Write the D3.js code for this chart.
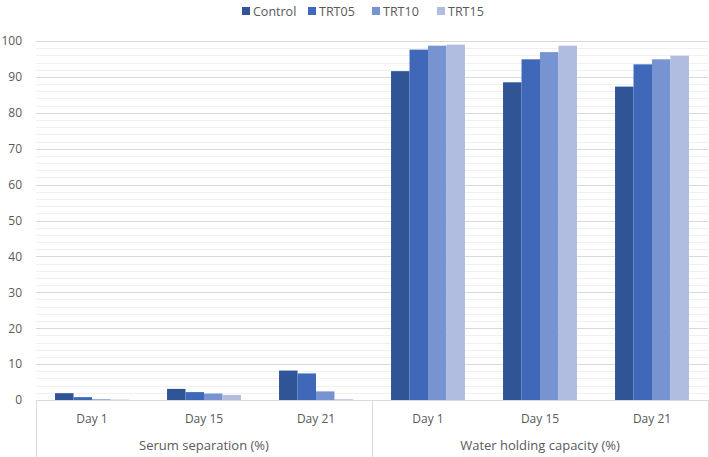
<!DOCTYPE html>
<html>
<head>
<meta charset="utf-8">
<script src="https://cdn.jsdelivr.net/npm/d3@7"></script>
<style>
  body { margin: 0; background: #fff; }
  text { font-family: "Open Sans", "Liberation Sans", sans-serif; fill: #595959; }
</style>
</head>
<body>
<div id="chart"></div>
<script>
const groups = ["Serum separation (%)", "Water holding capacity (%)"];
const days = ["Day 1", "Day 15", "Day 21"];
const seriesNames = ["Control", "TRT05", "TRT10", "TRT15"];
const colors = ["#2f5597", "#3f69b8", "#7893d2", "#b0bde0"];

// one entry per day, within each group
const control = [1.9, 3.1, 8.2, 91.6, 88.5, 87.3];
const trt05 = [0.8, 2.2, 7.4, 97.6, 94.9, 93.5];
const trt10 = [0.2, 1.8, 2.4, 98.7, 96.9, 94.9];
const trt15 = [0.1, 1.4, 0.2, 99.0, 98.7, 95.9];

const yTicks = [0, 10, 20, 30, 40, 50, 60, 70, 80, 90, 100];

const W = 709, H = 457;
const margin = { top: 41, right: 1, bottom: 57, left: 36 };
const width = W - margin.left - margin.right;
const height = H - margin.top - margin.bottom;

const svg = d3.select("#chart").append("svg")
  .attr("width", W).attr("height", H);

const g = svg.append("g")
  .attr("transform", `translate(${margin.left},${margin.top})`);

// build category rows
const cats = [];
groups.forEach((grp, gi) => days.forEach((d, di) => cats.push({ key: gi + "|" + d, day: d, group: grp })));
const values = [control, trt05, trt10, trt15];

const x0 = d3.scaleBand().domain(cats.map(c => c.key)).range([0, width]).paddingInner(0).paddingOuter(0);
const x1 = d3.scaleBand().domain(seriesNames).range([x0.bandwidth() * 0.17, x0.bandwidth() * 0.83]);
const y = d3.scaleLinear().domain([0, 100]).range([height, 0]);

// minor gridlines
g.append("g")
  .selectAll("line")
  .data(d3.range(2, 100, 2).filter(v => v % 10 !== 0))
  .join("line")
  .attr("x1", 0).attr("x2", width)
  .attr("y1", d => Math.round(y(d)) + 0.5).attr("y2", d => Math.round(y(d)) + 0.5)
  .attr("stroke", "#f0f0f0");

// major gridlines
g.append("g")
  .selectAll("line")
  .data(yTicks.filter(v => v > 0))
  .join("line")
  .attr("x1", 0).attr("x2", width)
  .attr("y1", d => Math.round(y(d)) + 0.5).attr("y2", d => Math.round(y(d)) + 0.5)
  .attr("stroke", "#d9d9d9");

// Y axis labels
g.append("g")
  .call(d3.axisLeft(y).tickValues(yTicks).tickSize(0).tickPadding(14))
  .call(a => a.select(".domain").remove())
  .call(a => a.selectAll("text").style("font-size", "12px").style("font-family", "Open Sans").style("fill", "#595959"));

// bars
seriesNames.forEach((s, si) => {
  g.append("g")
    .selectAll("rect")
    .data(cats.map((c, ci) => ({ key: c.key, v: values[si][ci] })))
    .join("rect")
    .attr("x", d => x0(d.key) + x1(s))
    .attr("width", x1.bandwidth())
    .attr("y", d => y(d.v))
    .attr("height", d => y(0) - y(d.v))
    .attr("fill", colors[si]);
});

// x axis line
g.append("line")
  .attr("x1", 0).attr("x2", width)
  .attr("y1", height + 0.5).attr("y2", height + 0.5)
  .attr("stroke", "#d9d9d9");

// category box separators
const sepX = [0, x0(cats[3].key), width];
g.append("g")
  .selectAll("line")
  .data(sepX)
  .join("line")
  .attr("x1", d => Math.round(d) + 0.5).attr("x2", d => Math.round(d) + 0.5)
  .attr("y1", height).attr("y2", H - margin.top)
  .attr("stroke", "#d9d9d9");

// day labels
g.append("g")
  .selectAll("text")
  .data(cats)
  .join("text")
  .attr("x", d => x0(d.key) + x0.bandwidth() / 2)
  .attr("y", height + 23)
  .attr("text-anchor", "middle")
  .style("font-size", "12px")
  .text(d => d.day);

// group labels
g.append("g")
  .selectAll("text")
  .data(groups)
  .join("text")
  .attr("x", (d, i) => x0(cats[i * 3].key) + x0.bandwidth() * 1.5)
  .attr("y", height + 50)
  .attr("text-anchor", "middle")
  .style("font-size", "13px")
  .text(d => d);

// legend
const legendX = [242, 308, 372, 437];
const legend = svg.append("g");
seriesNames.forEach((s, i) => {
  legend.append("rect")
    .attr("x", legendX[i]).attr("y", 7)
    .attr("width", 8).attr("height", 8)
    .attr("fill", colors[i]);
  legend.append("text")
    .attr("x", legendX[i] + 11).attr("y", 16)
    .style("font-size", "12.5px")
    .text(s);
});
</script>
</body>
</html>
